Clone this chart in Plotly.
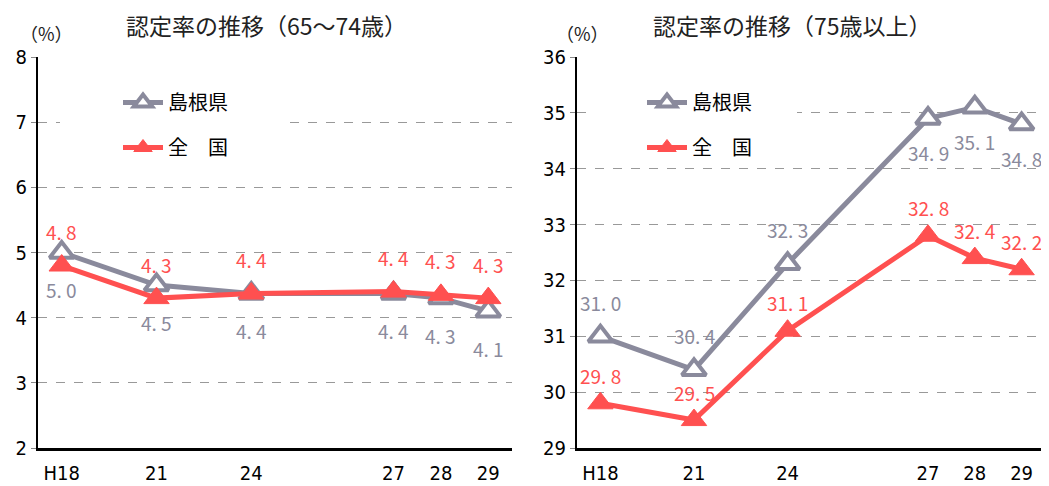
import plotly.graph_objects as go

# ---- data ----
years = ["H18", "21", "24", "27", "28", "29"]
axis_slots = ["H18", " ", "21", "  ", "24", "   ", "    ", "27", "28", "29"]

shimane_6574 = [5.0, 4.5, 4.37, 4.37, 4.3, 4.1]
national_6574 = [4.8, 4.3, 4.37, 4.4, 4.35, 4.3]
shimane_75 = [31.0, 30.4, 32.3, 34.9, 35.1, 34.8]
national_75 = [29.8, 29.5, 31.1, 32.8, 32.4, 32.2]

title_left = "認定率の推移（65～74歳）"
title_right = "認定率の推移（75歳以上）"
name_shimane = "島根県"
name_national = "全　国"

# ---- style ----
GRAY = "#8A8A9C"
RED = "#FF5050"
NUMFONT = "Liberation Sans Narrow, DejaVu Sans Condensed, Liberation Sans, sans-serif"
CJK = "Noto Sans CJK JP, sans-serif"

# the page body has an 8px margin: the figure is sized/positioned to compensate
OFF = 8
W, H = 1049 - OFF, 486 - OFF
TOP, BOT = 57 - OFF, 448 - OFF

# label placement (style): +1 above, -1 below
left_gray_side = [-1, -1, -1, -1, -1, -1]
left_red_side = [1, 1, 1, 1, 1, 1]
right_gray_side = [1, 1, 1, -1, -1, -1]
right_red_side = [1, 1, 1, 1, 1, 1]


def fmt(v):
    return f"{v:.1f}".replace(".", ". ")


def px(xp):
    return (xp - OFF) / W


def py(yp):
    return (BOT - (yp - OFF)) / (BOT - TOP)


fig = go.Figure()

panels = [
    ("x", "y", "legend", shimane_6574, national_6574, left_gray_side, left_red_side, 37, 34),
    ("x2", "y2", "legend2", shimane_75, national_75, right_gray_side, right_red_side, 34, 28),
]
for xa, ya, lg, s_vals, n_vals, s_side, n_side, s_off, n_off in panels:
    fig.add_trace(go.Scatter(
        x=years, y=s_vals, xaxis=xa, yaxis=ya, name=name_shimane,
        legend=lg, legendgroup=lg + "s", mode="lines+markers",
        line=dict(color=GRAY, width=5),
        marker=dict(symbol="triangle-up", size=21, color="white",
                    line=dict(color=GRAY, width=4)),
    ))
    fig.add_trace(go.Scatter(
        x=years, y=n_vals, xaxis=xa, yaxis=ya, name=name_national,
        legend=lg, legendgroup=lg + "n", mode="lines+markers",
        line=dict(color=RED, width=5),
        marker=dict(symbol="triangle-up", size=22, color=RED,
                    line=dict(color=RED, width=1)),
    ))
    for x, v, sd in zip(years, s_vals, s_side):
        fig.add_annotation(x=axis_slots.index(x), y=v, xref=xa, yref=ya, text=fmt(v),
                           showarrow=False, yshift=sd * s_off, xanchor="center",
                           font=dict(family=CJK, size=19, color=GRAY))
    for x, v, sd in zip(years, n_vals, n_side):
        fig.add_annotation(x=axis_slots.index(x), y=v, xref=xa, yref=ya, text=fmt(v),
                           showarrow=False, yshift=sd * n_off, xanchor="center",
                           font=dict(family=CJK, size=19, color=RED))

xcommon = dict(
    type="category", categoryorder="array", categoryarray=axis_slots,
    range=[-0.5, len(axis_slots) - 0.5], showgrid=False,
    showline=True, linecolor="black", linewidth=2.5,
    ticks="outside", ticklen=5, tickcolor="rgba(0,0,0,0)",
    tickfont=dict(family=NUMFONT, size=20, color="black"),
    fixedrange=True, automargin=False,
)
ycommon = dict(
    dtick=1, showgrid=True, gridcolor="#999999", griddash="dash", gridwidth=1,
    showline=True, linecolor="black", linewidth=2,
    ticks="outside", ticklen=5, tickcolor="#888888",
    tickfont=dict(family=NUMFONT, size=20, color="black"),
    zeroline=False, fixedrange=True, automargin=False,
)

fig.update_layout(
    width=W, height=H,
    margin=dict(l=0, r=0, t=TOP, b=H - BOT, autoexpand=False),
    paper_bgcolor="white", plot_bgcolor="white",
    xaxis=dict(domain=[px(38), px(512)], anchor="y", **xcommon),
    yaxis=dict(domain=[0, 1], anchor="x", range=[2, 8], **ycommon),
    xaxis2=dict(domain=[px(577), px(1045)], anchor="y2", **xcommon),
    yaxis2=dict(domain=[0, 1], anchor="x2", range=[29, 36], **ycommon),
    legend=dict(x=px(118), y=py(83), xanchor="left", yanchor="top",
                bgcolor="rgba(0,0,0,0)", font=dict(family=CJK, size=20, color="black"),
                tracegroupgap=16, itemwidth=40),
    legend2=dict(x=px(642), y=py(83), xanchor="left", yanchor="top",
                 bgcolor="rgba(0,0,0,0)", font=dict(family=CJK, size=20, color="black"),
                 tracegroupgap=16, itemwidth=40),
    showlegend=True,
)

# white legend backgrounds
for x0, x1 in [(60, 287), (588, 797)]:
    fig.add_shape(type="rect", xref="paper", yref="paper",
                  x0=px(x0), x1=px(x1), y0=py(162), y1=py(75),
                  fillcolor="white", line=dict(width=0), layer="above")

# titles and unit labels
for text, xp in [(title_left, 266), (title_right, 792)]:
    fig.add_annotation(text=text, xref="paper", yref="paper", xanchor="center",
                       yanchor="middle", x=px(xp), y=py(25), showarrow=False,
                       font=dict(family=CJK, size=23, color="#222222"))
for xp in [46, 582]:
    fig.add_annotation(text="（%）", xref="paper", yref="paper", xanchor="center",
                       yanchor="middle", x=px(xp), y=py(33), showarrow=False,
                       font=dict(family=CJK, size=18, color="#222222"))

fig.write_html("out.html")
